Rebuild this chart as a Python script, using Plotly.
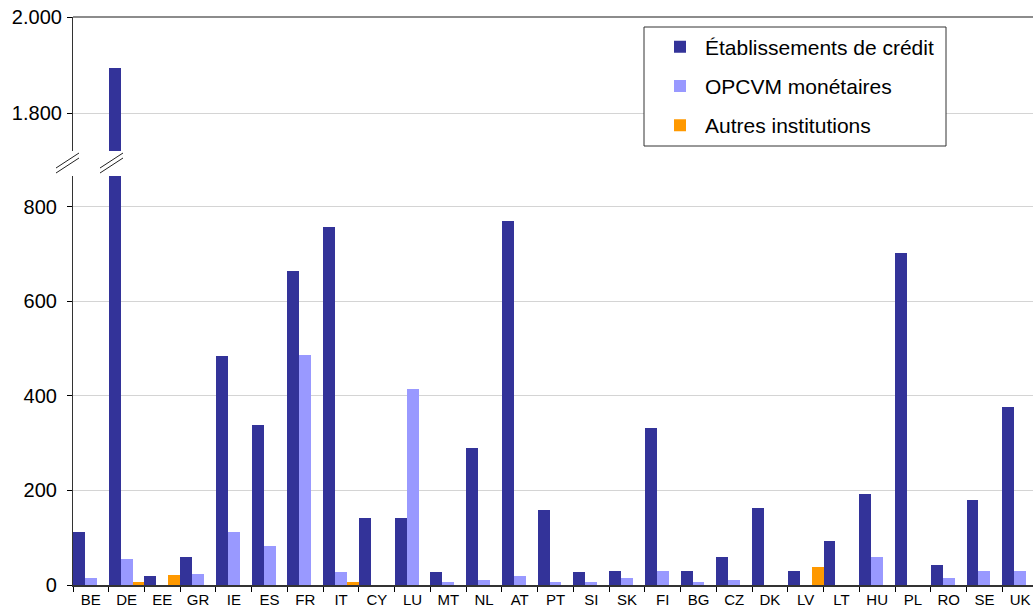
import plotly.graph_objects as go

countries = ["BE", "DE", "EE", "GR", "IE", "ES", "FR", "IT", "CY", "LU", "MT", "NL", "AT", "PT",
             "SI", "SK", "FI", "BG", "CZ", "DK", "LV", "LT", "HU", "PL", "RO", "SE", "UK"]
credit = [111, 1893, 18, 60, 483, 339, 664, 757, 141, 141, 27, 289, 770, 158,
          27, 30, 331, 30, 60, 162, 30, 94, 192, 702, 43, 179, 377]
opcvm = [14, 56, 0, 23, 111, 82, 487, 27, 0, 415, 6, 10, 18, 6,
         6, 14, 30, 6, 10, 0, 0, 0, 60, 0, 14, 30, 30]
autres = [0, 6, 21, 0, 0, 0, 0, 6, 0, 0, 0, 0, 0, 0,
          0, 0, 0, 0, 0, 0, 38, 0, 0, 0, 0, 0, 0]

names = ["Établissements de crédit", "OPCVM monétaires", "Autres institutions"]
colors = ["#333399", "#9999FF", "#FF9900"]
series = [credit, opcvm, autres]

W, H = 1033, 611
ML, MR, MT, MB = 73, 0, 17, 26
PW, PH = W - ML - MR, H - MT - MB


def px(x):
    return (x - ML) / PW


def py(y):
    return (H - MB - y) / PH


fig = go.Figure()
for nm, col, vals in zip(names, colors, series):
    fig.add_trace(go.Bar(x=countries, y=vals, name=nm, marker=dict(color=col, line=dict(width=0)),
                         xaxis="x", yaxis="y", legendgroup=nm, showlegend=True))
for nm, col, vals in zip(names, colors, series):
    fig.add_trace(go.Bar(x=countries, y=vals, name=nm, marker=dict(color=col, line=dict(width=0)),
                         xaxis="x", yaxis="y2", legendgroup=nm, showlegend=False))

font_family = "Liberation Sans, Arial, sans-serif"
low_top = py(176)
up_bot = py(151)

fig.update_layout(
    width=W, height=H,
    margin=dict(l=ML, r=MR, t=MT, b=MB, pad=0),
    paper_bgcolor="white", plot_bgcolor="white",
    separators=",.",
    barmode="group", bargap=0, bargroupgap=0,
    font=dict(family=font_family, color="black"),
    xaxis=dict(type="category", range=[-0.5, 26.36], tickson="boundaries",
               ticks="outside", ticklen=5, tickcolor="black", tickwidth=1,
               showline=True, linecolor="#333333", linewidth=1.5,
               showgrid=False, tickfont=dict(size=15, family=font_family),
               ticklabelstandoff=0, anchor="y", automargin=False),
    yaxis=dict(domain=[0, low_top], range=[0, 864.5], tickvals=[0, 200, 400, 600, 800],
               tickformat=",d", ticks="outside", ticklen=5, tickcolor="black",
               showline=True, linecolor="#333333", linewidth=1.2,
               showgrid=True, gridcolor="#d4d4d4", gridwidth=1, zeroline=False,
               tickfont=dict(size=20, family=font_family), ticklabelstandoff=6,
               anchor="x", automargin=False),
    yaxis2=dict(domain=[up_bot, 1], range=[1721, 2000], tickvals=[1800, 2000],
                tickformat=",d", ticks="outside", ticklen=5, tickcolor="black",
                showline=True, linecolor="#333333", linewidth=1.2,
                showgrid=True, gridcolor="#d4d4d4", gridwidth=1, zeroline=False,
                tickfont=dict(size=20, family=font_family), ticklabelstandoff=1,
                anchor="x", automargin=False),
    legend=dict(x=px(655), y=py(26.5), xanchor="left", yanchor="top",
                bgcolor="rgba(0,0,0,0)", borderwidth=0,
                font=dict(size=21, family=font_family, color="black"),
                traceorder="grouped", tracegroupgap=9, itemwidth=40),
    showlegend=True,
)

shapes = []
# top border line
shapes.append(dict(type="line", xref="paper", yref="paper", x0=0, x1=1, y0=1, y1=1,
                   line=dict(color="#666666", width=1.5), layer="above"))
# legend box
shapes.append(dict(type="rect", xref="paper", yref="paper", x0=px(644), x1=px(946),
                   y0=py(146), y1=py(27), fillcolor="white",
                   line=dict(color="#333333", width=1), layer="above"))
# axis break marks
for x0 in (56, 100):
    for dy in (0, 5):
        shapes.append(dict(type="line", xref="paper", yref="paper",
                           x0=px(x0), x1=px(x0 + 23), y0=py(168 + dy), y1=py(153 + dy),
                           line=dict(color="#222222", width=1), layer="above"))
fig.update_layout(shapes=shapes)

fig.write_html("out.html", config={"displayModeBar": False},
               post_script="document.body.style.margin='0';document.body.style.overflow='hidden';")
